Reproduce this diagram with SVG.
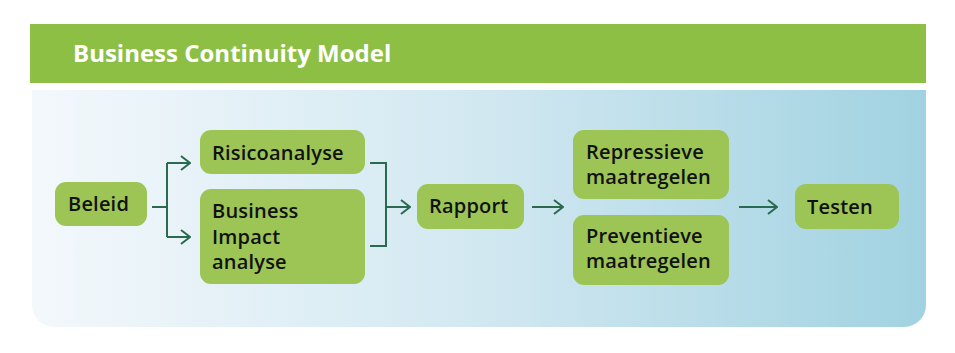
<svg xmlns="http://www.w3.org/2000/svg" width="955" height="353" viewBox="0 0 955 353">
<defs>
<linearGradient id="bg" x1="0" y1="0" x2="1" y2="0">
<stop offset="0" stop-color="#f3f8fc"/>
<stop offset="0.5" stop-color="#d2e8f1"/>
<stop offset="1" stop-color="#a1d2e1"/>
</linearGradient>
<marker id="arr" viewBox="0 0 12 16" refX="11" refY="8" markerWidth="12" markerHeight="16" markerUnits="userSpaceOnUse" orient="auto">
<path d="M2,1 L11,8 L2,15" fill="none" stroke="#2a6a4e" stroke-width="2"/>
</marker>
<style>
.node{fill:#9cc556;}
.lbl{font-family:"Open Sans","Liberation Sans",sans-serif;font-weight:600;font-size:20px;letter-spacing:0.2px;fill:#111;}
.conn{fill:none;stroke:#2a6a4e;stroke-width:2;}
</style>
</defs>
<rect x="0" y="0" width="955" height="353" fill="#ffffff"/>
<path d="M32,90 H926 V305 A22,22 0 0 1 904,327 H54 A22,22 0 0 1 32,305 Z" fill="url(#bg)"/>
<g id="header">
<rect x="30" y="24" width="896" height="59" fill="#8dbf45"/>
<text x="73" y="62" font-family="'Open Sans','Liberation Sans',sans-serif" font-weight="700" font-size="24" fill="#ffffff">Business Continuity Model</text>
</g>
<g id="connectors">
<path class="conn" d="M152,207 H167 M167,163 V237"/>
<path class="conn" d="M167,163 H190" marker-end="url(#arr)"/>
<path class="conn" d="M167,237 H190" marker-end="url(#arr)"/>
<path class="conn" d="M370,163 H386 V246 H370"/>
<path class="conn" d="M386,207 H410" marker-end="url(#arr)"/>
<path class="conn" d="M532,207 H563" marker-end="url(#arr)"/>
<path class="conn" d="M739,207 H777" marker-end="url(#arr)"/>
</g>
<g id="beleid">
<rect class="node" x="55" y="182" width="92" height="44" rx="11"/>
<text class="lbl" x="68" y="211">Beleid</text>
</g>
<g id="risicoanalyse">
<rect class="node" x="200" y="130" width="165" height="44" rx="11"/>
<text class="lbl" x="212" y="160">Risicoanalyse</text>
</g>
<g id="bia">
<rect class="node" x="200" y="189" width="165" height="95" rx="11"/>
<text class="lbl" x="212" y="218">Business</text>
<text class="lbl" x="212" y="244">Impact</text>
<text class="lbl" x="212" y="269">analyse</text>
</g>
<g id="rapport">
<rect class="node" x="417" y="184" width="107" height="45" rx="11"/>
<text class="lbl" x="429" y="213">Rapport</text>
</g>
<g id="repressieve">
<rect class="node" x="573" y="130" width="156" height="69" rx="11"/>
<text class="lbl" x="586" y="159">Repressieve</text>
<text class="lbl" x="586" y="184">maatregelen</text>
</g>
<g id="preventieve">
<rect class="node" x="573" y="215" width="156" height="70" rx="11"/>
<text class="lbl" x="586" y="243">Preventieve</text>
<text class="lbl" x="586" y="268">maatregelen</text>
</g>
<g id="testen">
<rect class="node" x="795" y="184" width="104" height="45" rx="11"/>
<text class="lbl" x="807" y="214">Testen</text>
</g>
</svg>
